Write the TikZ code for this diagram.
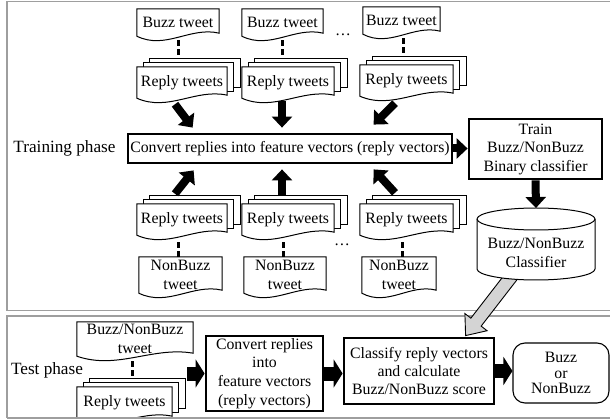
\documentclass[tikz,border=0pt]{standalone}
\usepackage{fontspec}
\setmainfont{Liberation Serif}
\usetikzlibrary{calc,arrows.meta}
\pgfdeclarelayer{background}
\pgfsetlayers{background,main}
\newcommand\docshape[1]{%
  \draw[docline] (#1.north west) -- (#1.south west)
    .. controls ($(#1.south west)!0.35!(#1.south east)+(0,14)$) and ($(#1.south west)!0.65!(#1.south east)+(0,-10)$) .. ($(#1.south east)+(0,-3)$)
    -- (#1.north east) -- cycle;}
\newcommand\stackshape[1]{%
  \draw[docline] ($(#1.north west)+(13,-8)$) rectangle ($(#1.south east)+(13,-11)$);
  \draw[docline] ($(#1.north west)+(6.5,-4)$) rectangle ($(#1.south east)+(6.5,-7)$);
  \docshape{#1}}
\begin{document}
\begin{tikzpicture}[x=1pt,y=-1pt,
  txt/.style={inner sep=0pt, align=center, font=\fontsize{15.8}{18.5}\selectfont},
  phase/.style={inner sep=0pt, font=\fontsize{17.2}{20}\selectfont},
  docline/.style={line width=1pt, fill=white, draw=black},
  thickbox/.style={txt, draw=black, line width=2.8pt, fill=white},
  roundbox/.style={txt, draw=black, line width=1.1pt, fill=white, rounded corners=12pt},
  framec/.style={draw=black!38, line width=1.6pt},
  dashline/.style={line width=3pt, dash pattern=on 6pt off 3pt},
  blk/.style={line width=8pt, -{Triangle[length=11pt,width=20pt]}},
  blkT/.style={line width=14pt, -{Triangle[length=9pt,width=28pt]}},
  grayarrow/.style={draw=black, line width=0.9pt, fill=black!17},
]
\useasboundingbox (0,0) rectangle (610,419);

% ---------- training phase ----------
\node[txt, minimum width=82pt, minimum height=27pt] (bt1) at (178,22.5) {Buzz tweet};
\node[txt, minimum width=81pt, minimum height=27pt] (bt2) at (282.5,22.5) {Buzz tweet};
\node[txt, minimum width=77pt, minimum height=27pt] (bt3) at (401.5,20.5) {Buzz tweet};
\node[txt] (dots1) at (343,35) {…};

\node[txt, minimum width=90pt, minimum height=31pt] (rt1) at (182,82.5) {Reply tweets};
\node[txt, minimum width=92pt, minimum height=31pt] (rt2) at (288,82.5) {Reply tweets};
\node[txt, minimum width=93pt, minimum height=31pt] (rt3) at (406.5,80.5) {Reply tweets};

\node[phase] (tp) at (64.5,148) {Training phase};
\node[thickbox, minimum width=324pt, minimum height=29pt] (conv) at (290,148.5) {Convert replies into feature vectors (reply vectors)};
\node[thickbox, minimum width=133pt, minimum height=60pt] (train) at (535.5,149) {Train\\Buzz/NonBuzz\\Binary classifier};

\node[txt] (cyl) at (536,253) {Buzz/NonBuzz\\Classifier};
\coordinate (cyltop) at ($(cyl.center)+(0,-45)$);

\node[txt, minimum width=90pt, minimum height=31pt] (rb1) at (182,219.5) {Reply tweets};
\node[txt, minimum width=92pt, minimum height=31pt] (rb2) at (288,219.5) {Reply tweets};
\node[txt, minimum width=93pt, minimum height=31pt] (rb3) at (406.5,219.5) {Reply tweets};
\node[txt] (dots2) at (342,245) {…};

\node[txt, minimum width=83pt, minimum height=36pt] (nb1) at (180.5,275) {NonBuzz\\tweet};
\node[txt, minimum width=82pt, minimum height=36pt] (nb2) at (285,275) {NonBuzz\\tweet};
\node[txt, minimum width=74pt, minimum height=36pt] (nb3) at (399,275) {NonBuzz\\tweet};

% ---------- test phase ----------
\node[phase] (tsp) at (47,370) {Test phase};
\node[txt, minimum width=116pt, minimum height=34pt] (bnt) at (135,339) {Buzz/NonBuzz\\tweet};
\node[txt, minimum width=95pt, minimum height=32pt] (rtt) at (124.5,403) {Reply tweets};
\node[thickbox, minimum width=117pt, minimum height=75pt, font=\fontsize{15.8}{18.7}\selectfont] (conv2) at (264.5,373.5) {Convert replies\\into\\feature vectors\\(reply vectors)};
\node[thickbox, minimum width=150pt, minimum height=66pt, font=\fontsize{15.8}{18}\selectfont] (cls) at (419,371) {Classify reply vectors\\and calculate\\Buzz/NonBuzz score};
\node[roundbox, minimum width=96pt, minimum height=60pt, font=\fontsize{15.8}{15.5}\selectfont] (out) at (561,373) {Buzz\\or\\NonBuzz};

% ---------- background shapes ----------
\begin{pgfonlayer}{background}
  \draw[framec] (640,1.5) -- (7,1.5) -- (7,310.5) -- (640,310.5);
  \draw[framec] (640,316) -- (7,316) -- (7,418);
  \docshape{bt1}\docshape{bt2}\docshape{bt3}
  \stackshape{rt1}\stackshape{rt2}\stackshape{rt3}
  \stackshape{rb1}\stackshape{rb2}\stackshape{rb3}
  \docshape{nb1}\docshape{nb2}\docshape{nb3}
  \docshape{bnt}
  \stackshape{rtt}
  \draw[framec] (7,418) -- (640,418);
  % gray arrow from classifier to classify box
  \coordinate (gS) at ($(cyl.center)+(-22,20)$);
  \coordinate (gE) at ($(cls.north west)+(123,-1)$);
  \coordinate (gH) at ($(gE)!17pt!(gS)$);
  \draw[grayarrow] ($(gS)!6.5pt!90:(gE)$) -- ($(gH)!6.5pt!-90:(gS)$) -- ($(gH)!14pt!-90:(gS)$)
     -- (gE) -- ($(gH)!14pt!90:(gS)$) -- ($(gH)!6.5pt!90:(gS)$) -- ($(gS)!6.5pt!-90:(gE)$) -- cycle;
  % cylinder
  \draw[docline] ($(cyl.center)+(-59,-34)$) -- ($(cyl.center)+(-59,16)$)
     arc[start angle=180,end angle=360,x radius=59pt,y radius=11pt]
     -- ($(cyl.center)+(59,-34)$)
     arc[start angle=0,end angle=180,x radius=59pt,y radius=11pt] -- cycle;
  \draw[docline, fill=none] ($(cyl.center)+(-59,-34)$) arc[start angle=180,end angle=360,x radius=59pt,y radius=11pt];
\end{pgfonlayer}

% ---------- dashed links ----------
\draw[dashline] ($(bt1.south)+(0,4)$) -- ($(bt1.south |- rt1.north)+(0,-8)$);
\draw[dashline] ($(bt2.south)+(0,4)$) -- ($(bt2.south |- rt2.north)+(0,-8)$);
\draw[dashline] ($(bt3.south)+(2,4)$) -- ($(bt3.south |- rt3.north)+(2,-8)$);
\draw[dashline] ($(nb1.north)+(-2,0)$) -- ($(nb1.north |- rb1.south)+(-2,4)$);
\draw[dashline] ($(nb2.north)+(-2,0)$) -- ($(nb2.north |- rb2.south)+(-2,4)$);
\draw[dashline] ($(nb3.north)+(3,0)$) -- ($(nb3.north |- rb3.south)+(3,4)$);
\draw[dashline] ($(bnt.south)+(-3,5)$) -- ($(bnt.south |- rtt.north)+(-3,-8)$);

% ---------- block arrows ----------
\coordinate (a2s) at ($(rt2.south)+(-6,3)$);
\coordinate (a5s) at ($(rb2.north)+(-6,-8)$);
\draw[blk] ($(rt1.south)+(-7,6)$) -- ($(conv.north west)+(66,-5)$);
\draw[blk, shorten >=5pt] (a2s) -- (a2s |- conv.north);
\draw[blk] ($(rt3.south)+(-11.5,7)$) -- ($(conv.north west)+(247,-8)$);
\draw[blk] ($(rb1.north)+(-7,-10)$) -- ($(conv.south west)+(67,6)$);
\draw[blk, shorten >=5pt] (a5s) -- (a5s |- conv.south);
\draw[blk] ($(rb3.north)+(-11.5,-11)$) -- ($(conv.south west)+(247,5)$);
\draw[blk] (conv.east) -- (conv.east -| train.west);
\draw[blk] (train.south) -- (cyltop);

\draw[blkT] ($(bnt.east |- conv2.west)+(-6,0)$) -- (conv2.west);
\draw[blkT] (conv2.east) -- (conv2.east -| cls.west);
\draw[blkT] (cls.east) -- (cls.east -| out.west);
\end{tikzpicture}
\end{document}
